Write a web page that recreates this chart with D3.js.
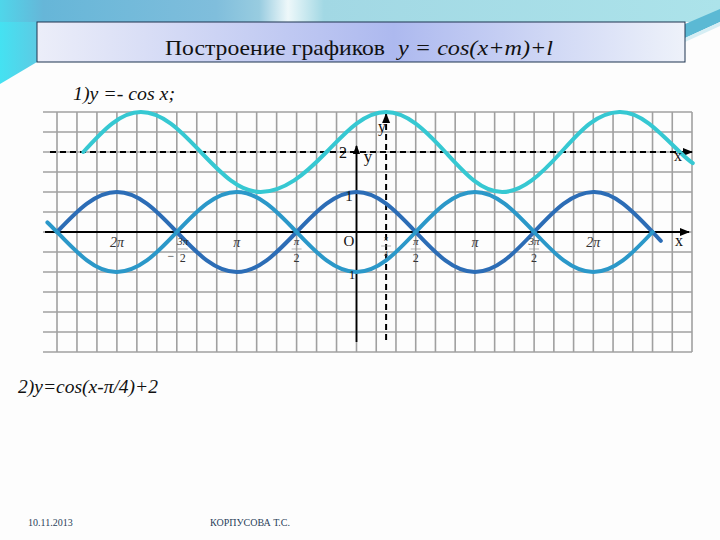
<!DOCTYPE html>
<html><head><meta charset="utf-8">
<script src="https://cdn.jsdelivr.net/npm/d3@7"></script>
<style>html,body{margin:0;padding:0;background:#fff;} svg{display:block;}</style>
</head><body>
<svg id="chart" width="720" height="540"></svg>
<script>
// ---------- texts ----------
const titlePlain = "Построение графиков";
const titleFormula = "y = cos(x+m)+l";
const task1 = "1)y =- cos x;";
const task2 = "2)y=cos(x-π/4)+2";
const footerDate = "10.11.2013";
const footerAuthor = "КОРПУСОВА Т.С.";

// ---------- series (x in multiples of π) ----------
const cosX = [-2.5,-2.25,-2,-1.75,-1.5,-1.25,-1,-0.75,-0.5,-0.25,0,0.25,0.5,0.75,1,1.25,1.5,1.75,2,2.25,2.5,2.57];
const cosY = [0,0.71,1,0.71,0,-0.71,-1,-0.71,0,0.71,1,0.71,0,-0.71,-1,-0.71,0,0.71,1,0.71,0,-0.22];
const negCosX = [-2.58,-2.5,-2.25,-2,-1.75,-1.5,-1.25,-1,-0.75,-0.5,-0.25,0,0.25,0.5,0.75,1,1.25,1.5,1.75,2,2.25,2.5];
const negCosY = [0.24,0,-0.71,-1,-0.71,0,0.71,1,0.71,0,-0.71,-1,-0.71,0,0.71,1,0.71,0,-0.71,-1,-0.71,0];
const shiftX = [-2.28,-2.04,-1.80,-1.55,-1.30,-1.05,-0.80,-0.52,-0.25,0,0.25,0.5,0.75,0.99,1.23,1.48,1.73,1.97,2.22,2.47,2.73,2.84];
const shiftY = [2.0,2.71,3,2.71,2,1.29,1,1.29,2,2.71,3,2.71,2,1.29,1,1.29,2,2.71,3,2.71,2,1.72];

// ---------- tick labels ----------
const xTickVals = [-2,-1.5,-1,-0.5,0.25,0.5,1,1.5,2];
const xTickNum  = ["2π","3π","π","π","π","π","π","3π","2π"];
const xTickDen  = ["","2","","2","4","2","","2",""];
const xTickSign = ["","−","","","","","","",""];
const yTickVals = [1,-1,2];
const yTickText = ["1","1","2"];

const SERIF = "'Liberation Serif', 'DejaVu Serif', 'Times New Roman', serif";
const svg = d3.select("#chart");
const defs = svg.append("defs");

// ---------- background decoration ----------
const gTop = defs.append("linearGradient").attr("id","gTop").attr("x1","0").attr("x2","1").attr("y1","0").attr("y2","0");
[[0,"#4fd6ea"],[0.06,"#66b6d8"],[0.3,"#80bedc"],[0.36,"#98cce0"],[0.40,"#eef8fa"],[0.45,"#a2d8e4"],[1,"#ace3ea"]]
  .forEach(([o,c])=>gTop.append("stop").attr("offset",o).attr("stop-color",c));
const gLeft = defs.append("linearGradient").attr("id","gLeft").attr("x1","0").attr("x2","1").attr("y1","0").attr("y2","0");
[[0,"#44e2f2"],[1,"#5ccbe4"]].forEach(([o,c])=>gLeft.append("stop").attr("offset",o).attr("stop-color",c));
const gBox = defs.append("linearGradient").attr("id","gBox").attr("x1","0").attr("x2","1").attr("y1","0").attr("y2","0");
[[0,"#eceef9"],[0.55,"#adb9ef"],[1,"#eef2fa"]].forEach(([o,c])=>gBox.append("stop").attr("offset",o).attr("stop-color",c));

svg.append("rect").attr("width",720).attr("height",540).attr("fill","#fdfdfd");
svg.append("path").attr("d","M0,0 H720 V22 H0 Z").attr("fill","url(#gTop)");
svg.append("path").attr("d","M0,22 H37 V62 L0,84 Z").attr("fill","url(#gLeft)");
svg.append("path").attr("d","M685,24 L720,9 L720,22 L685,38 Z").attr("fill","#5bb9d4");
svg.append("path").attr("d","M685,38 L720,22 L720,26 L685,42 Z").attr("fill","#d6eef4");

// title box
svg.append("rect").attr("x",37).attr("y",22).attr("width",648).attr("height",40)
  .attr("fill","url(#gBox)").attr("stroke","#1e3450").attr("stroke-width",1);
const title = svg.append("text").attr("y",55).attr("font-family",SERIF)
  .attr("font-size",21).attr("fill","#111");
title.append("tspan").attr("x",165).attr("textLength",220).attr("lengthAdjust","spacingAndGlyphs").text(titlePlain);
title.append("tspan").attr("x",398).attr("font-style","italic").attr("textLength",155).attr("lengthAdjust","spacingAndGlyphs").text(titleFormula);

svg.append("text").attr("x",73).attr("y",100).attr("font-family",SERIF).attr("font-style","italic")
  .attr("font-size",19).attr("fill","#111").attr("textLength",102).attr("lengthAdjust","spacingAndGlyphs").text(task1);
svg.append("text").attr("x",18).attr("y",393).attr("font-family",SERIF).attr("font-style","italic")
  .attr("font-size",19).attr("fill","#111").attr("textLength",140).attr("lengthAdjust","spacingAndGlyphs").text(task2);
svg.append("text").attr("x",28).attr("y",526).attr("font-family",SERIF)
  .attr("font-size",10).attr("fill","#2a3f5a").text(footerDate);
svg.append("text").attr("x",210).attr("y",526).attr("font-family",SERIF)
  .attr("font-size",10).attr("fill","#2a3f5a").text(footerAuthor);

// ---------- scales ----------
const x = d3.scaleLinear().domain([-2.5,0,17/6]).range([57,356.5,692]);
const y = d3.scaleLinear().domain([-3,3]).range([352,112]);

// ---------- grid ----------
const grid = svg.append("g").attr("stroke","#a0a0a0").attr("stroke-width",1.6);
const vLines = d3.range(-15,18).map(k=>k/6);
grid.selectAll("line.v").data(vLines).join("line").attr("class","v")
  .attr("x1",d=>x(d)).attr("x2",d=>x(d)).attr("y1",y(3)).attr("y2",y(-3));
const hLines = d3.range(-6,7).map(k=>k/2);
grid.selectAll("line.h").data(hLines).join("line").attr("class","h")
  .attr("x1",43).attr("x2",x(17/6)).attr("y1",d=>y(d)).attr("y2",d=>y(d));

// ---------- arrow marker ----------
defs.append("marker").attr("id","arr").attr("viewBox","0 0 10 10").attr("refX",9).attr("refY",5)
  .attr("markerWidth",5).attr("markerHeight",5).attr("orient","auto").attr("markerUnits","strokeWidth")
  .append("path").attr("d","M0,1 L10,5 L0,9 Z").attr("fill","#000");

// ---------- axes ----------
const axes = svg.append("g").attr("stroke","#000").attr("fill","none");
axes.append("line").attr("x1",45).attr("x2",689).attr("y1",y(0)).attr("y2",y(0)).attr("stroke-width",2).attr("marker-end","url(#arr)");
axes.append("line").attr("x1",x(0)).attr("x2",x(0)).attr("y1",342).attr("y2",146).attr("stroke-width",1.8).attr("marker-end","url(#arr)");
axes.append("line").attr("x1",50).attr("x2",692).attr("y1",y(2)).attr("y2",y(2)).attr("stroke-width",2)
  .attr("stroke-dasharray","6,4").attr("marker-end","url(#arr)");
axes.append("line").attr("x1",x(0.25)).attr("x2",x(0.25)).attr("y1",340).attr("y2",114).attr("stroke-width",2)
  .attr("stroke-dasharray","6,4").attr("marker-end","url(#arr)");

// ---------- curves ----------
const line = d3.line().x(d=>x(d[0])).y(d=>y(d[1])).curve(d3.curveNatural);
const curves = svg.append("g").attr("fill","none").attr("stroke-width",4).attr("stroke-linecap","round");
curves.append("path").datum(d3.zip(shiftX,shiftY)).attr("d",line).attr("stroke","#36c8d2");
curves.append("path").datum(d3.zip(cosX,cosY)).attr("d",line).attr("stroke","#2c6db6");
curves.append("path").datum(d3.zip(negCosX,negCosY)).attr("d",line).attr("stroke","#2b98c9");

// ---------- labels ----------
const lab = svg.append("g").attr("font-family",SERIF).attr("fill","#333").attr("text-anchor","middle");
xTickVals.forEach((v,i)=>{
  const cx = x(v) + (v===-1.5 ? 6 : 0);
  if (xTickDen[i]==="") {
    lab.append("text").attr("x",cx).attr("y",247).attr("font-style","italic").attr("font-size",14).text(xTickNum[i]);
  } else {
    const small = v===0.25;
    lab.append("text").attr("x",cx).attr("y",small?241:245).attr("font-style","italic").attr("font-size",small?8:11).text(xTickNum[i]);
    lab.append("line").attr("x1",cx-5).attr("x2",cx+5).attr("y1",small?246:249).attr("y2",small?246:249).attr("stroke","#888").attr("stroke-width",0.6);
    lab.append("text").attr("x",cx).attr("y",small?257:262).attr("font-size",small?8:12).text(xTickDen[i]);
    if (xTickSign[i]) lab.append("text").attr("x",cx-12).attr("y",260).attr("font-size",12).text(xTickSign[i]);
  }
});
lab.append("text").attr("x",349).attr("y",246).attr("font-size",15).attr("fill","#111").text("O");
lab.append("text").attr("x",349).attr("y",y(yTickVals[0])+9).attr("font-size",15).attr("fill","#111").text(yTickText[0]);
lab.append("text").attr("x",352).attr("y",y(yTickVals[1])+7).attr("font-size",13).attr("fill","#111").text(yTickText[1]);
lab.append("text").attr("x",343).attr("y",y(yTickVals[2])+6).attr("font-size",16).attr("fill","#111").text(yTickText[2]);
lab.append("text").attr("x",368).attr("y",162).attr("font-size",17).attr("fill","#111").text("y");
lab.append("text").attr("x",382).attr("y",132).attr("font-size",16).attr("fill","#111").text("y");
lab.append("text").attr("x",678).attr("y",161).attr("font-size",16).attr("fill","#111").text("x");
lab.append("text").attr("x",679).attr("y",246).attr("font-size",16).attr("fill","#111").text("x");
</script>
</body></html>
